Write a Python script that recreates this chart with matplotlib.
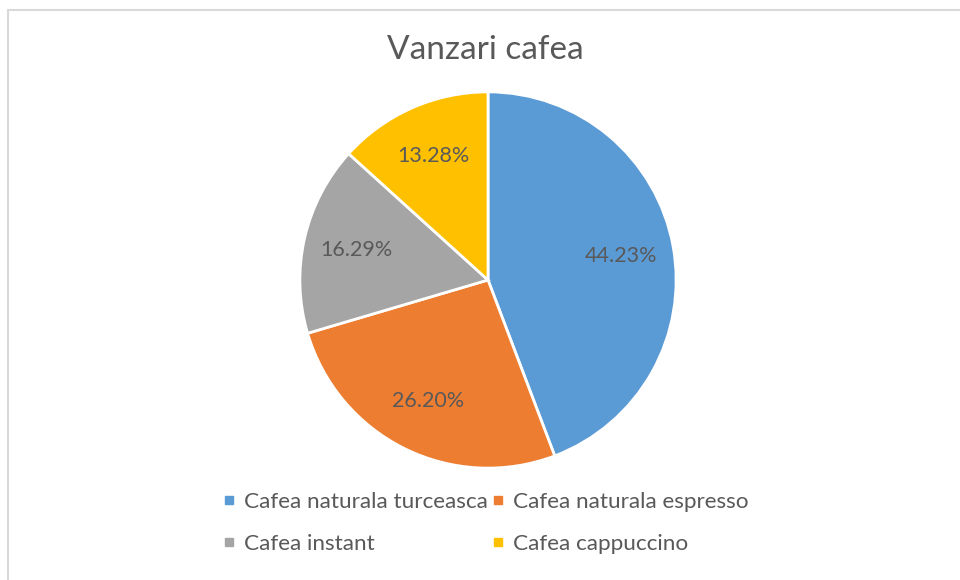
import matplotlib.pyplot as plt
from matplotlib.patches import Rectangle
from matplotlib.lines import Line2D

labels = ['Cafea naturala turceasca', 'Cafea naturala espresso', 'Cafea instant', 'Cafea cappuccino']
shares = [44.23, 26.20, 16.29, 13.28]
colors = ['#5B9BD5', '#ED7D31', '#A5A5A5', '#FFC000']
text_color = '#595959'

plt.rcParams['font.family'] = ['Lato', 'DejaVu Sans']

W, H = 960, 580
fig = plt.figure(figsize=(W / 100, H / 100), dpi=100)

# faint chart-area border (right/bottom run off the picture)
fig.patches.append(Rectangle((8 / W, -0.1), 1.2, (H - 10) / H + 0.1, transform=fig.transFigure,
                             fill=False, edgecolor='#D9D9D9', linewidth=1.5))

# pie box: x 298..678, y 90..470 (pixels from top)
ax = fig.add_axes([298 / W, (H - 470) / H, 380 / W, 380 / H])
wedges, texts, autotexts = ax.pie(shares, colors=colors, startangle=90, counterclock=False,
                                  autopct='%.2f%%', pctdistance=0.72,
                                  wedgeprops=dict(edgecolor='white', linewidth=2),
                                  textprops=dict(color=text_color, fontsize=15.5))
ax.set_xlim(-1.01, 1.01)
ax.set_ylim(-1.01, 1.01)
ax.set_aspect('equal')
ax.axis('off')

fig.text(485 / W, (H - 50) / H, 'Vanzari cafea', ha='center', va='center',
         fontsize=24, color=text_color)

# legend is filled row by row in the reference
order = [0, 2, 1, 3]
handles = [Line2D([], [], linestyle='none', marker='s', markersize=6,
                  markerfacecolor=colors[i], markeredgecolor=colors[i]) for i in order]
leg = fig.legend(handles, [labels[i] for i in order], ncol=2, loc='center',
                 bbox_to_anchor=(486 / W, (H - 523) / H),
                 frameon=False, fontsize=16.2, labelcolor=text_color, handlelength=0.5,
                 handletextpad=0.4, columnspacing=0.2, labelspacing=1.0)

fig.savefig('out.png', dpi=100)
